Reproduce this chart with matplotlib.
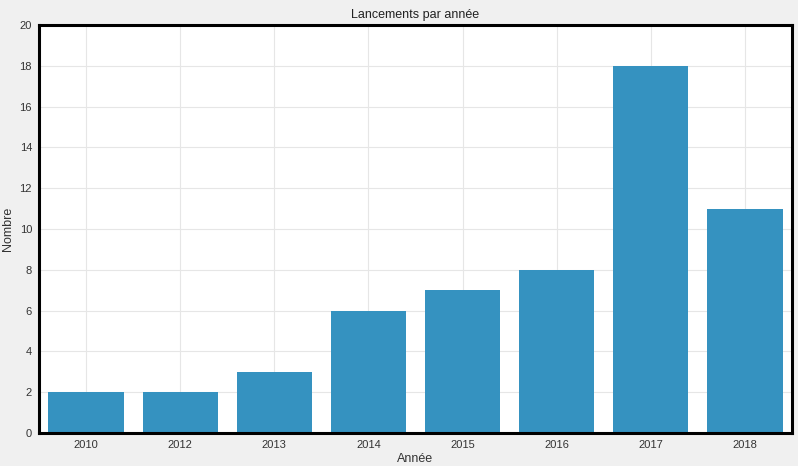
import matplotlib
matplotlib.use('Agg')
from matplotlib import pyplot as plt

plt.rcParams['font.family'] = ['Liberation Sans', 'DejaVu Sans']

annees = ['2010', '2012', '2013', '2014', '2015', '2016', '2017', '2018']
nombre = [2, 2, 3, 6, 7, 8, 18, 11]

fig = plt.figure(figsize=(7.98, 4.66), dpi=100, facecolor='#f0f0f0')
ax = fig.add_axes([39 / 798, 1 - 433 / 466, 753 / 798, 408 / 466])
ax.set_facecolor('white')

ax.bar(range(len(annees)), nombre, width=0.8, color='#3592c0', zorder=2)

ax.set_xlim(-0.5, len(annees) - 0.5)
ax.set_ylim(0, 20)
ax.set_yticks(range(0, 21, 2))
ax.set_xticks(range(len(annees)))
ax.set_xticklabels(annees)
ax.tick_params(length=0, labelsize=8, colors='#333333', pad=5)
ax.grid(color='#e6e6e6', linewidth=0.8, zorder=0)

for s in ax.spines.values():
    s.set_color('black')
    s.set_linewidth(2.2)

ax.set_title('Lancements par année', fontsize=9, color='#222222', pad=5)
ax.set_xlabel('Année', fontsize=9, color='#333333', labelpad=2)
ax.set_ylabel('Nombre', fontsize=9, color='#333333', labelpad=4)

fig.savefig('out.png', dpi=100, facecolor=fig.get_facecolor())
